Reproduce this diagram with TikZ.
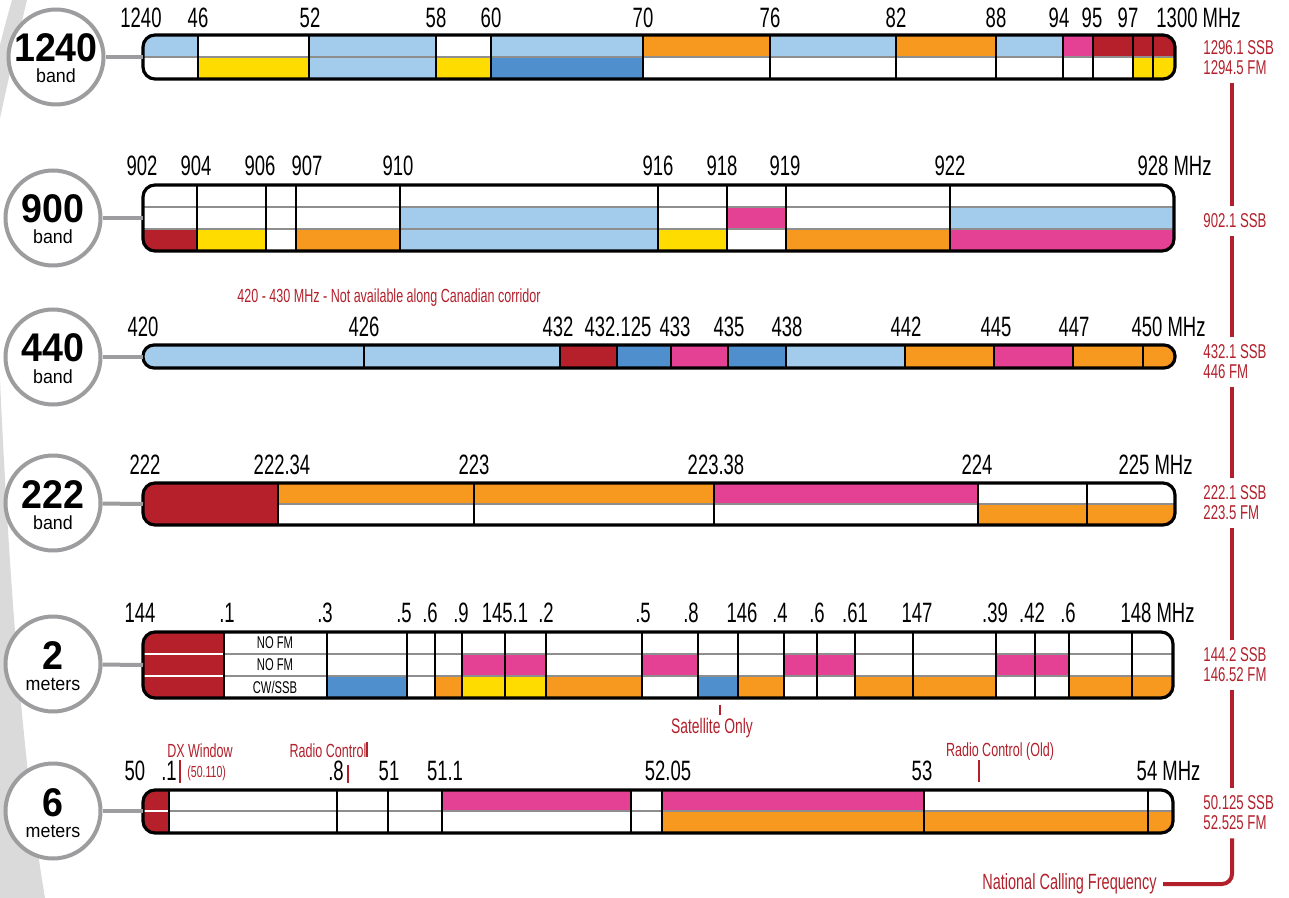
\documentclass[tikz,border=0pt]{standalone}
\usepackage{fontspec}
\usepackage{tikz}
\setmainfont{Liberation Sans}
\newfontfamily\condfont[FakeStretch=0.66]{Liberation Sans}
\newfontfamily\ringfont[FakeStretch=0.94]{Liberation Sans}

\definecolor{cSky}{HTML}{A2CBEC}
\definecolor{cBlue}{HTML}{4F8FCD}
\definecolor{cOrange}{HTML}{F7981F}
\definecolor{cYellow}{HTML}{FFDC00}
\definecolor{cPink}{HTML}{E44194}
\definecolor{cRed}{HTML}{B5202A}
\definecolor{cRing}{HTML}{9D9D9F}
\definecolor{cRow}{HTML}{8E8E8E}
\definecolor{cBack}{HTML}{DADADB}
\definecolor{cNote}{HTML}{B2202B}

\tikzset{
  ring/.style={circle, draw=cRing, fill=white, line width=2pt, minimum size=47.5pt, inner sep=0pt},
  ringnum/.style={font=\ringfont\bfseries\fontsize{20}{20}\selectfont, anchor=base, inner sep=0pt},
  ringword/.style={font=\ringfont\fontsize{9.5}{9.5}\selectfont, anchor=base, inner sep=0pt},
  link/.style={draw=cRing, line width=2pt},
  freq/.style={font=\condfont\fontsize{14}{14}\selectfont, anchor=base, inner sep=0pt},
  cut/.style={line width=1.2pt},
  row/.style={draw=cRow, line width=0.6pt},
  outline/.style={line width=1.6pt, rounded corners=6pt},
  note/.style={font=\condfont\fontsize{9.5}{9.5}\selectfont, text=cNote, anchor=base, inner sep=0pt},
  pin/.style={draw=cNote, line width=0.8pt},
  cellnote/.style={font=\condfont\fontsize{8.5}{8.5}\selectfont, inner sep=0pt},
  calling/.style={font=\condfont\fontsize{10}{10}\selectfont, text=cNote, align=left, anchor=west, inner xsep=0pt, inner ysep=4pt},
  rail/.style={draw=cNote, line width=2pt},
}

\begin{document}
\begin{tikzpicture}[x=0.5pt,y=-0.5pt]
    \useasboundingbox (0,0) rectangle (1289,898);

    % Background
    \fill[cBack] (12,0) -- (27,0) .. controls (15,50) .. (0,118) -- (0,45) .. controls (5,25) .. (12,0) -- cycle;
    \fill[cBack] (0,380) .. controls (10,600) and (25,780) .. (45,898) -- (0,898) -- cycle;

    % 1240 band
    \begin{scope}
        \clip[rounded corners=6pt] (143,35) rectangle (1175,79);
        \foreach \xa/\xb/\ca/\cb in {143/198/cSky/white, 198/309/white/cYellow, 309/436/cSky/cSky,
            436/491/white/cYellow, 491/643/cSky/cBlue, 643/770/cOrange/white, 770/896/cSky/white,
            896/996/cOrange/white, 996/1063/cSky/white, 1063/1093/cPink/white, 1093/1133/cRed/white,
            1133/1175/cRed/cYellow}
            {\fill[\ca] (\xa,35) rectangle (\xb,57); \fill[\cb] (\xa,57) rectangle (\xb,79);}
    \end{scope}
    \draw[row] (143,57) -- (1175,57);
    \foreach \x in {198,309,436,491,643,770,896,996,1063,1093,1133,1153}
        \draw[cut] (\x,35) -- (\x,79);
    \draw[outline] (143,35) rectangle (1175,79);
    \foreach \x/\t [count=\i] in {141/1240,198/46,310/52,436/58,491/60,643/70,770/76,896/82,996/88,1059/94,1092/95,1128/97}
        \node[freq] (fa\i) at (\x,28) {\t};
    \node[freq] (faend) at (1177,28) {1300\rlap{~MHz}};
    \coordinate (b1240) at (143,57);

    % 900 band
    \begin{scope}
        \clip[rounded corners=6pt] (143,185) rectangle (1174,251);
        \fill[white] (143,185) rectangle (1174,251);
        \foreach \xa/\xb/\ca/\cb in {143/197/white/cRed, 197/266/white/cYellow, 266/296/white/white,
            296/400/white/cOrange, 400/658/cSky/cSky, 658/727/white/cYellow, 727/786/cPink/white,
            786/950/white/cOrange, 950/1174/cSky/cPink}
            {\fill[\ca] (\xa,207) rectangle (\xb,229); \fill[\cb] (\xa,229) rectangle (\xb,251);}
    \end{scope}
    \draw[row] (143,207) -- (1174,207);
    \draw[row] (143,229) -- (1174,229);
    \foreach \x in {197,266,296,400,658,727,786,950}
        \draw[cut] (\x,185) -- (\x,251);
    \draw[outline] (143,185) rectangle (1174,251);
    \foreach \x/\t [count=\i] in {142/902,196/904,260/906,307/907,398/910,658/916,722/918,785/919,950/922}
        \node[freq] (fb\i) at (\x,176) {\t};
    \node[freq] (fbend) at (1153,176) {928\rlap{~MHz}};
    \coordinate (b900) at (143,218);

    % 440 band
    \begin{scope}
        \clip[rounded corners=5.5pt] (143,345) rectangle (1175,368);
        \foreach \xa/\xb/\ca in {143/560/cSky, 560/617/cRed, 617/671/cBlue, 671/728/cPink, 728/786/cBlue,
            786/905/cSky, 905/994/cOrange, 994/1073/cPink, 1073/1175/cOrange}
            {\fill[\ca] (\xa,345) rectangle (\xb,368);}
    \end{scope}
    \foreach \x in {364,560,617,671,728,786,905,994,1073,1143}
        \draw[cut] (\x,345) -- (\x,368);
    \draw[outline, rounded corners=5.5pt] (143,345) rectangle (1175,368);
    \foreach \x/\t [count=\i] in {143/420,364/426,558/432,618/432.125,675/433,729/435,787/438,906/442,996/445,1074/447}
        \node[freq] (fc\i) at (\x,336) {\t};
    \node[freq] (fcend) at (1147,336) {450\rlap{~MHz}};
    \node[note] (canada) at (389,303) {420 - 430 MHz - Not available along Canadian corridor};
    \coordinate (b440) at (143,357);

    % 222 band
    \begin{scope}
        \clip[rounded corners=6pt] (143,483) rectangle (1175,525);
        \foreach \xa/\xb/\ca/\cb in {143/278/cRed/cRed, 278/714/cOrange/white, 714/978/cPink/white,
            978/1175/white/cOrange}
            {\fill[\ca] (\xa,483) rectangle (\xb,504); \fill[\cb] (\xa,504) rectangle (\xb,525);}
    \end{scope}
    \draw[row] (278,504) -- (1175,504);
    \foreach \x in {278,474,714,978,1087}
        \draw[cut] (\x,483) -- (\x,525);
    \draw[outline] (143,483) rectangle (1175,525);
    \foreach \x/\t [count=\i] in {145/222,282/222.34,474/223,716/223.38,977/224}
        \node[freq] (fd\i) at (\x,474) {\t};
    \node[freq] (fdend) at (1134,474) {225\rlap{~MHz}};
    \coordinate (b222) at (143,504);

    % 2 meters
    \begin{scope}
        \clip[rounded corners=6pt] (143,632) rectangle (1173,698);
        \fill[white] (143,632) rectangle (1173,698);
        \fill[cRed] (143,632) rectangle (224,698);
        \foreach \xa/\xb/\ca/\cb in {327/407/white/cBlue, 435/462/white/cOrange, 462/546/cPink/cYellow,
            546/642/white/cOrange, 642/698/cPink/white, 698/738/white/cBlue, 738/784/white/cOrange,
            784/855/cPink/white, 855/996/white/cOrange, 996/1069/cPink/white, 1069/1173/white/cOrange}
            {\fill[\ca] (\xa,654) rectangle (\xb,676); \fill[\cb] (\xa,676) rectangle (\xb,698);}
    \end{scope}
    \draw[row] (224,654) -- (1173,654);
    \draw[row] (224,676) -- (1173,676);
    \draw[white, line width=0.6pt] (143,654) -- (224,654) (143,676) -- (224,676);
    \foreach \x in {224,327,407,435,462,505,546,642,698,738,784,817,855,913,996,1035,1069,1132}
        \draw[cut] (\x,632) -- (\x,698);
    \draw[outline] (143,632) rectangle (1173,698);
    \node[cellnote] (nofma) at (275,643) {NO FM};
    \node[cellnote] (nofmb) at (275,665) {NO FM};
    \node[cellnote] (cwssb) at (275,687) {CW/SSB};
    \foreach \x/\t [count=\i] in {140/144,227/.1,325/.3,404/.5,430/.6,461/.9,505/145.1,546/.2,643/.5,691/.8,
        742/146,780/.4,817/.6,855/.61,917/147,995/.39,1032/.42,1068/.6}
        \node[freq] (fe\i) at (\x,622) {\t};
    \node[freq] (feend) at (1136,622) {148\rlap{~MHz}};
    \node[note, font=\condfont\fontsize{10.5}{10.5}\selectfont] (sat) at (712,733) {Satellite Only};
    \coordinate (satpin) at (720,705);
    \draw[pin] (satpin) -- ++(0,10);
    \coordinate (b2m) at (143,665);

    % 6 meters
    \begin{scope}
        \clip[rounded corners=6pt] (143,790) rectangle (1173,833);
        \fill[white] (143,790) rectangle (1173,833);
        \foreach \xa/\xb/\ca/\cb in {143/169/cRed/cRed, 442/631/cPink/white, 662/924/cPink/cOrange,
            924/1173/white/cOrange}
            {\fill[\ca] (\xa,790) rectangle (\xb,811); \fill[\cb] (\xa,811) rectangle (\xb,833);}
    \end{scope}
    \draw[row] (169,811) -- (1173,811);
    \draw[white, line width=0.6pt] (143,811) -- (169,811);
    \foreach \x in {169,337,388,442,631,662,924,1148}
        \draw[cut] (\x,790) -- (\x,833);
    \draw[outline] (143,790) rectangle (1173,833);
    \foreach \x/\t [count=\i] in {135/50,169/.1,336/.8,389/51,445/51.1,668/52.05,922/53}
        \node[freq] (ff\i) at (\x,780) {\t};
    \node[freq] (ffend) at (1147,780) {54\rlap{~MHz}};
    \node[note] (dx) at (200,757) {DX Window};
    \node[note, anchor=base west, font=\condfont\fontsize{8}{8}\selectfont] (dxfreq) at (187,777) {(50.110)};
    \node[note] (rc) at (328,757) {Radio Control};
    \node[note] (rcold) at (1000,756) {Radio Control (Old)};
    \draw[pin] (180,760) -- (180,783);
    \draw[pin] (367,742) -- (367,757);
    \draw[pin] (348,765) -- (348,783);
    \draw[pin] (979,760) -- (979,782);
    \coordinate (b6m) at (143,811);

    % Band rings
    \foreach \n/\x/\y/\t/\w in {1240/56/57/1240/band, 900/53/218/900/band, 440/53/357/440/band,
        222/53/503/222/band, 2m/53/664/2/meters, 6m/53/811/6/meters}
    {
        \node[ring] (r\n) at (\x,\y) {};
        \node[ringnum] (n\n) at ([yshift=-2.5pt]r\n.center) {\t};
        \node[ringword] (w\n) at ([yshift=-13pt]r\n.center) {\w};
        \draw[link] (r\n) -- (b\n);
    }

    % National calling frequencies
    \coordinate (rail) at (1232,0);
    \node[calling] (cf1240) at (1203,58) {1296.1 SSB\\1294.5 FM};
    \node[calling] (cf900) at (1203,221) {902.1 SSB};
    \node[calling] (cf440) at (1203,362) {432.1 SSB\\446 FM};
    \node[calling] (cf222) at (1203,503) {222.1 SSB\\223.5 FM};
    \node[calling] (cf2m) at (1203,665) {144.2 SSB\\146.52 FM};
    \node[calling] (cf6m) at (1203,813) {50.125 SSB\\52.525 FM};
    \node[calling, anchor=east, inner xsep=3pt, font=\condfont\fontsize{11}{11}\selectfont] (ncf) at (1163,884) {National Calling Frequency};
    \foreach \a/\b in {cf1240/cf900, cf900/cf440, cf440/cf222, cf222/cf2m, cf2m/cf6m}
        \draw[rail] (\a.south -| rail) -- (\b.north -| rail);
    \draw[rail, rounded corners=5pt] (cf6m.south -| rail) |- (ncf.east);
\end{tikzpicture}
\end{document}
